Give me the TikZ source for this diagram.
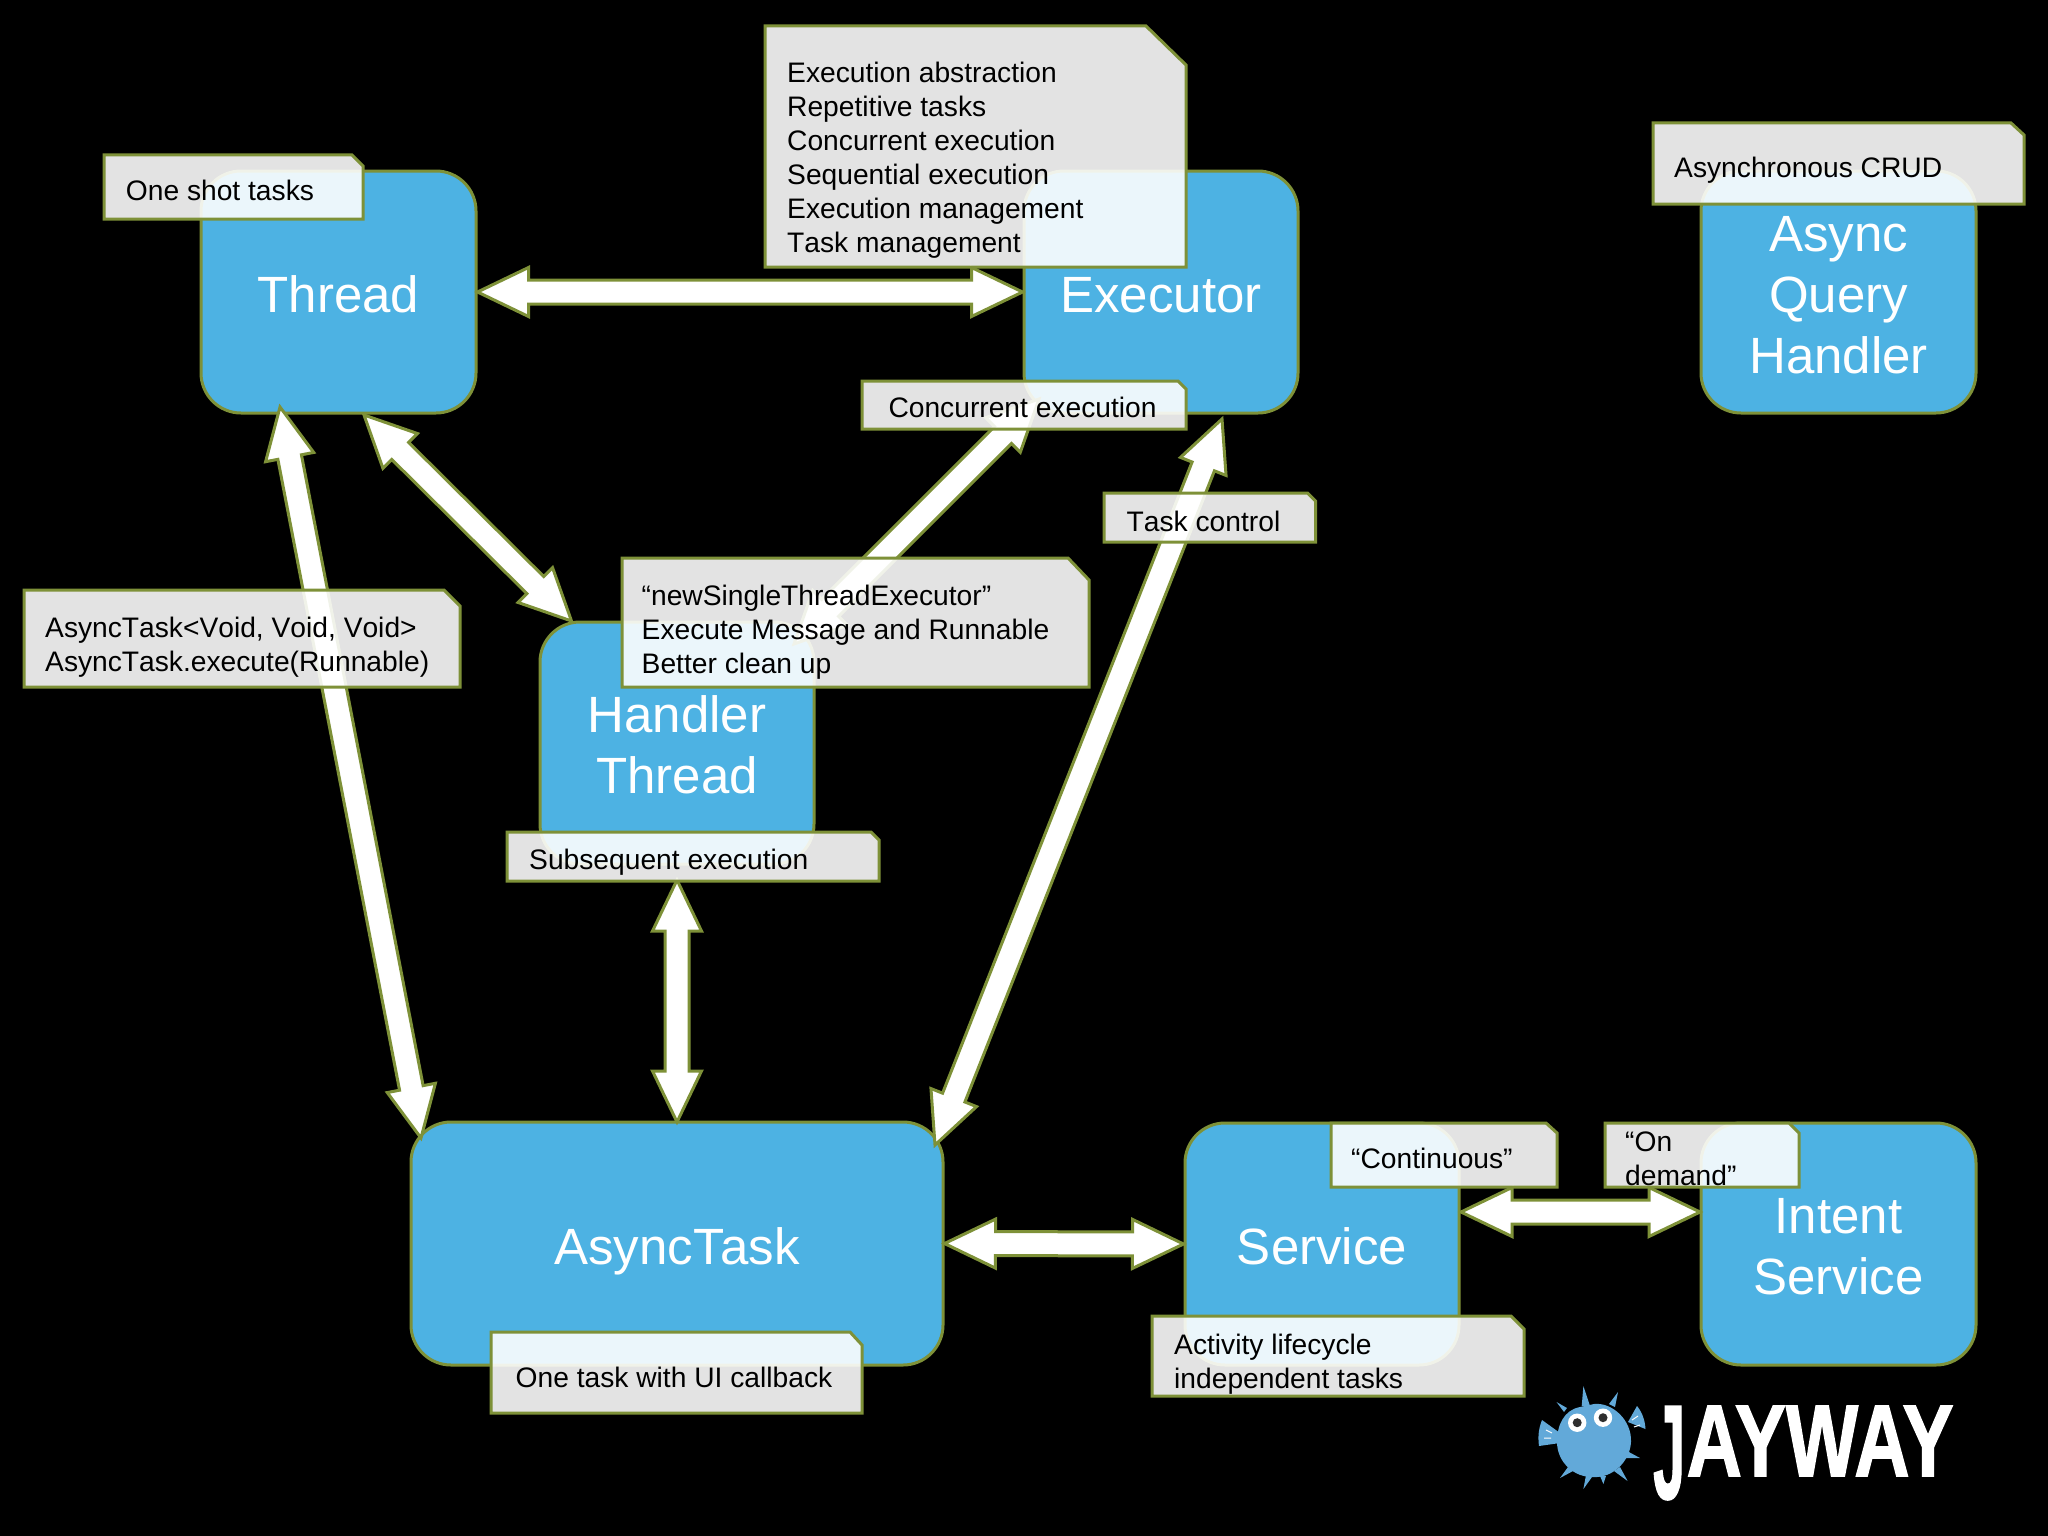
\documentclass[tikz,border=0pt]{standalone}
\usepackage{fontspec}
\setmainfont[Kerning=Off]{Liberation Sans}
\newfontfamily\logofont[FakeBold=1.6]{Liberation Sans Bold}
\usetikzlibrary{calc}
\definecolor{boxblue}{HTML}{4DB2E3}
\definecolor{olive}{HTML}{7E9138}
\definecolor{fishblue}{HTML}{62A9D9}
\newcommand{\tl}{\rule{0pt}{41pt}}
\tikzset{
  x=1pt,y=-1pt,
  bluebox/.style={draw=olive,line width=3pt,fill=boxblue,rounded corners=40pt,text=white,
    align=center,inner sep=0pt,font=\fontsize{51}{61}\selectfont},
  noteshape/.style={draw=olive,line width=3pt,fill=white,fill opacity=.89,line join=miter},
  notetext/.style={anchor=north west,yshift=23.8pt,inner sep=0pt,align=left,text=black,
    font=\fontsize{28.2}{34}\selectfont},
  arrowshape/.style={draw=olive,line width=3pt,fill=white,line join=miter,miter limit=4},
  fish/.style={fill=fishblue,draw=none},
}
\newcommand{\notepoly}[6]{\draw[noteshape] (#1,#2) -- (#3-#5,#2) -- (#3,#2+#6) -- (#3,#4) -- (#1,#4) -- cycle;}
\newcommand{\dbl}[2]{%
  \coordinate (A) at ($(#1)!51pt!(#2)$);
  \coordinate (B) at ($(#2)!51pt!(#1)$);
  \draw[arrowshape] (#1)
    -- ($(A)!24.5pt!90:(#2)$) -- ($(A)!12pt!90:(#2)$)
    -- ($(B)!12pt!-90:(#1)$) -- ($(B)!24.5pt!-90:(#1)$)
    -- (#2)
    -- ($(B)!24.5pt!90:(#1)$) -- ($(B)!12pt!90:(#1)$)
    -- ($(A)!12pt!-90:(#2)$) -- ($(A)!24.5pt!-90:(#2)$) -- cycle;}
\begin{document}
\begin{tikzpicture}
\useasboundingbox (0,0) rectangle (2048,1536);
\fill[black] (0,0) rectangle (2048,1536);

% boxes
\node[bluebox,minimum width=275pt,minimum height=242pt] (thread) at (338.5,292) {\tl Thread};
\node[bluebox,minimum width=274pt,minimum height=242pt] (executor) at (1161,292) {\tl Executor};
\node[bluebox,minimum width=275pt,minimum height=242pt] (aqh) at (1838.5,292) {\tl Async\\Query\\Handler};
\node[bluebox,minimum width=274pt,minimum height=242pt] (handler) at (677,743) {\tl Handler\\Thread};
\node[bluebox,minimum width=532pt,minimum height=243pt] (asynctask) at (677,1243.5) {\tl\smash{AsyncT\kern-.08em ask}};
\node[bluebox,minimum width=274pt,minimum height=242pt] (service) at (1322,1244) {\tl Service};
\node[bluebox,minimum width=275pt,minimum height=242pt] (intent) at (1838.5,1244) {\tl Intent\\Service};

% connector end points
\coordinate (tA) at (280,407);
\coordinate (aA) at (421,1138);
\coordinate (tB) at (364,415);
\coordinate (hA) at (571.5,621);
\coordinate (hB) at (794,644);
\coordinate (eB) at (1039,399);
\coordinate (eC) at (1222,419);
\coordinate (aC) at (935,1145);
\coordinate (hD) at (677,880);
\coordinate (aD) at (677,1122);
\coordinate (sE) at (1461,1212);
\coordinate (iE) at (1700,1212);

% connectors
\dbl{thread.east}{executor.west}
\dbl{tA}{aA}
\dbl{tB}{hA}
\dbl{hB}{eB}
\dbl{eC}{aC}
\dbl{hD}{aD}
\dbl{asynctask.east}{service.west}
\dbl{sE}{iE}

% notes
\notepoly{765}{26}{1186}{267}{40}{39}
\node[notetext] (nexec) at (787,82) {\strut Execution abstraction\\Repetitive tasks\\Concurrent execution\\Sequential execution\\Execution management\\Task management};
\notepoly{104}{155}{363}{219}{11}{11}
\node[notetext] (nshot) at (125.7,200) {\strut One shot tasks};
\notepoly{1653}{123}{2024}{204}{13}{12}
\node[notetext] (ncrud) at (1674,177) {\strut Asynchronous CRUD};
\notepoly{862}{381}{1186}{429}{8}{8}
\node[notetext] (nconc) at (888.3,417) {\strut Concurrent execution};
\notepoly{1104}{493}{1315.5}{542}{8}{8}
\node[notetext] (ntask) at (1126.5,531) {\strut Task control};
\notepoly{622}{558}{1089}{687}{21}{22}
\node[notetext] (nsingle) at (641.5,605) {\strut “newSingleThreadExecutor”\\Execute Message and Runnable\\Better clean up};
\notepoly{24}{590}{460}{687}{16}{16}
\node[notetext] (nasync) at (45,637) {\strut AsyncTask<Void, Void, Void>\\AsyncTask.execute(Runnable)};
\notepoly{507}{832}{879}{881}{8}{8}
\node[notetext] (nsub) at (529,869) {\strut Subsequent execution};
\notepoly{491}{1332}{862}{1413}{12}{13}
\node[notetext] (none) at (515.5,1387) {\strut One task with UI callback};
\notepoly{1331}{1123}{1557}{1187}{11}{10}
\node[notetext] (ncont) at (1351,1168) {\strut “Continuous”};
\notepoly{1605}{1123}{1799}{1187}{10}{10}
\node[notetext] (ndem) at (1625,1151) {\strut “On\\demand”};
\notepoly{1152}{1316}{1524}{1396}{13}{13}
\node[notetext] (nact) at (1174,1354) {\strut Activity lifecycle\\independent tasks};

% logo: fish
\fill[fish] (1583.4,1386) -- (1581.7,1406) -- (1590,1406) -- cycle;
\fill[fish] (1618,1392) -- (1609,1404) -- (1615,1407) -- cycle;
\fill[fish] (1556.5,1402) -- (1564,1412) -- (1567,1408) -- cycle;
\fill[fish] (1640,1458) -- (1627,1451) -- (1626,1458) -- cycle;
\fill[fish] (1627.6,1481) -- (1614,1471) -- (1620,1467) -- cycle;
\fill[fish] (1583.4,1489) -- (1586,1475) -- (1592,1477) -- cycle;
\fill[fish] (1603.4,1484) -- (1600,1476) -- (1606,1476) -- cycle;
\fill[fish] (1560,1478) -- (1568,1467) -- (1573,1471) -- cycle;
\fill[fish] (1542,1420) .. controls (1538,1430) and (1538,1438) .. (1539,1446) -- (1560,1443) -- (1560,1433) -- cycle;
\fill[fish] (1637,1406) .. controls (1642,1412) and (1645,1420) .. (1645.5,1429) -- (1628,1422) -- cycle;
\fill[fish] (1594,1404) .. controls (1612,1402) and (1632,1420) .. (1631,1442)
  .. controls (1630,1462) and (1612,1478) .. (1594,1477)
  .. controls (1574,1478) and (1557,1462) .. (1557,1442)
  .. controls (1557,1425) and (1564,1410) .. (1580,1407) -- cycle;
\draw[white,line width=1pt] (1546,1430) -- (1552,1433) (1544,1438) -- (1551,1438) (1632,1420) -- (1638,1416) (1634,1427) -- (1640,1425);
\fill[white] (1577.2,1422.7) circle (9.2);
\fill[white] (1603,1417.7) circle (9.2);
\fill[black!82] (1577.2,1422.7) circle (4.5);
\fill[black!82] (1603,1417.7) circle (4.5);

% logo: word mark
\node[anchor=base west,inner sep=0pt,text=white,font=\fontsize{102}{102}\logofont] (logo) at (1653,1476)
  {\scalebox{.75}[1]{\raisebox{-.22em}{\scalebox{.75}[1.31]{J}}\kern.02em AYW\kern-.05em AY}};
\end{tikzpicture}
\end{document}
